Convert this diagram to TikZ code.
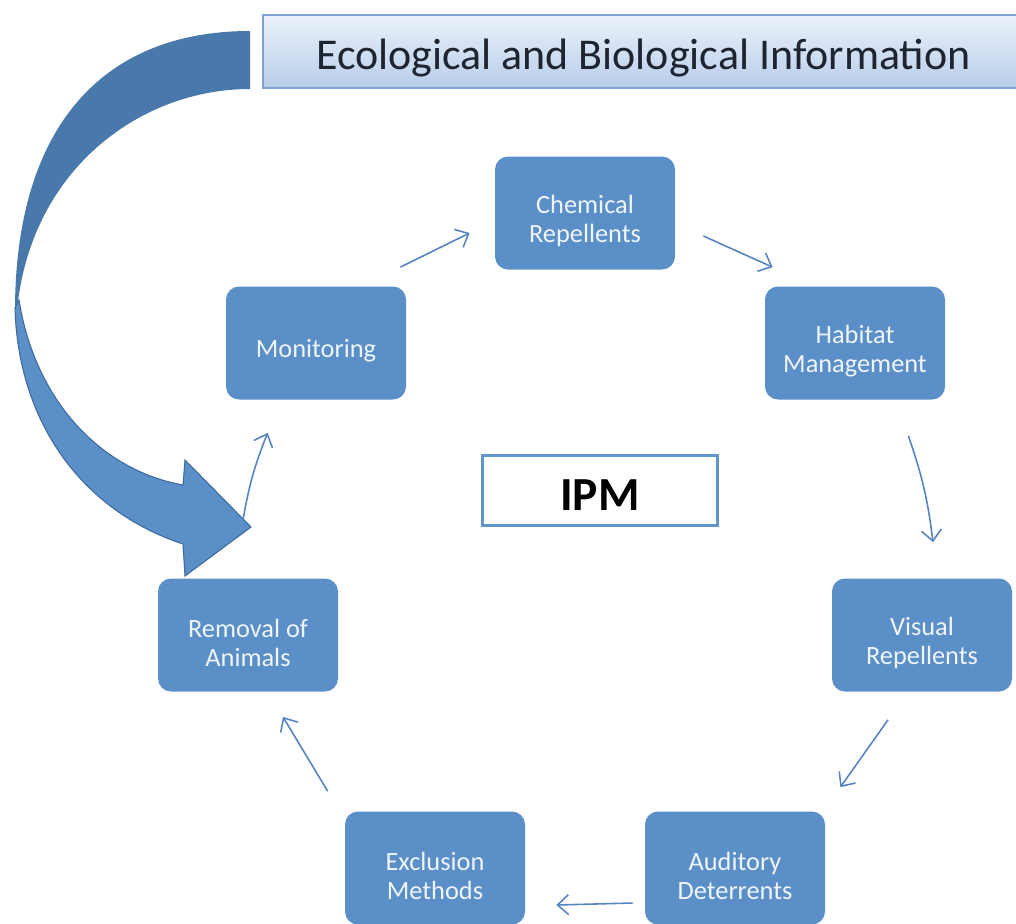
\documentclass[tikz,border=0pt]{standalone}
\usepackage{fontspec}
\setmainfont{Carlito}
\usepackage{tikz}
\usetikzlibrary{arrows.meta}
\tikzset{>={Straight Barb[length=2.2mm,width=4mm]}}
\definecolor{boxblue}{RGB}{91,143,199}
\definecolor{boxtext}{RGB}{240,245,251}
\definecolor{bandblue}{RGB}{72,121,170}
\definecolor{edgeblue}{RGB}{62,106,158}
\definecolor{flowblue}{RGB}{86,132,192}
\definecolor{ipmline}{RGB}{98,148,206}
\definecolor{bannerline}{RGB}{128,163,210}
\definecolor{bannertop}{RGB}{234,241,250}
\definecolor{bannerbot}{RGB}{184,205,233}
\definecolor{darktext}{RGB}{30,36,48}
\tikzset{
	method/.style={rectangle, rounded corners=2.6mm, fill=boxblue, minimum width=36mm, minimum height=22.6mm,
		label={[methodtext]center:#1}},
	methodtext/.style={text=boxtext, align=center, yshift=-1.6mm, font=\fontsize{15}{16.5}\selectfont},
	banner/.style={rectangle, draw=bannerline, line width=1.2pt, top color=bannertop, bottom color=bannerbot,
		minimum width=152.2mm, minimum height=14.6mm, text=darktext, text height=24.5pt, font=\fontsize{25}{28}\selectfont},
	ipm/.style={rectangle, draw=ipmline, line width=1.7pt, fill=white, minimum width=47mm, minimum height=14mm,
		text height=23pt, font=\bfseries\fontsize{27}{30}\selectfont},
	flow/.style={->, draw=flowblue, line width=0.9pt}
}

\begin{document}
\begin{tikzpicture}[x=0.2mm, y=-0.2mm]
	\useasboundingbox (0,0) rectangle (1016,923);
	% big curved arrow, drawn by hand
	\fill[bandblue] (250,31) .. controls (100,31) and (15,130) .. (15,311) -- (17,311) .. controls (30,170) and (140,89) .. (250,89) -- cycle;
	\filldraw[fill=boxblue, draw=edgeblue, line width=0.6pt] (15,308) .. controls (18,420) and (80,510) .. (183,544) -- (185,576) -- (251,527) -- (185,460) -- (183,485) .. controls (100,470) and (35,400) .. (19,300) -- cycle;

	\node[banner] (info) at (643.5,51.5) {Ecological and Biological Information};
	\node[method={Chemical\\Repellents}] (chem) at (585,213) {};
	\node[method={Habitat\\Management}] (hab) at (855,343) {};
	\node[method={Visual\\Repellents}] (vis) at (922,635) {};
	\node[method={Auditory\\Deterrents}] (aud) at (735,868) {};
	\node[method={Exclusion\\Methods}] (exc) at (435,868) {};
	\node[method={Removal of\\Animals}] (rem) at (248,635) {};
	\node[method={Monitoring}] (mon) at (316,343) {};
	\node[ipm] (ipm) at (600,490) {IPM};

	\draw[flow] ([xshift=-1.2mm,yshift=3.8mm]mon.north east) -- ([xshift=-5mm,yshift=-4mm]chem.west);
	\draw[flow] ([xshift=5.6mm,yshift=-4.6mm]chem.east) -- ([xshift=1.6mm,yshift=3.8mm]hab.north west);
	\draw[flow] ([xshift=-7.4mm,yshift=-7.2mm]hab.south east) to[bend left=6] ([xshift=2.2mm,yshift=7.2mm]vis.north);
	\draw[flow] ([xshift=-6.8mm,yshift=-5.6mm]vis.south) -- ([xshift=3mm,yshift=4.8mm]aud.north east);
	\draw[flow] ([xshift=-2.4mm,yshift=-7mm]aud.west) -- ([xshift=6.2mm,yshift=-7.4mm]exc.east);
	\draw[flow] ([xshift=-3.4mm,yshift=4mm]exc.north west) -- ([xshift=7mm,yshift=-5mm]rem.south);
	\draw[flow] ([xshift=-1mm,yshift=11.6mm]rem.north) to[bend left=6] ([xshift=8.4mm,yshift=-6.6mm]mon.south west);
\end{tikzpicture}
\end{document}
